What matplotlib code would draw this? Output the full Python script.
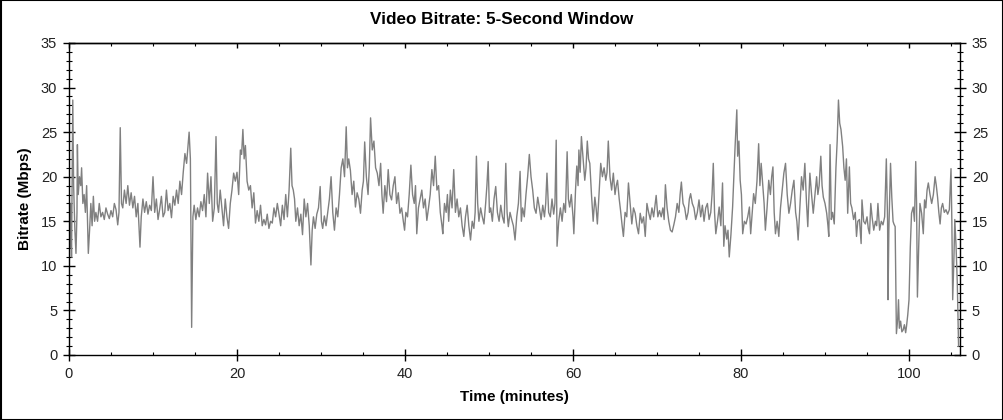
import matplotlib
matplotlib.use("Agg")
import matplotlib.pyplot as plt
from matplotlib.patches import Rectangle
from matplotlib.ticker import MultipleLocator

plt.rcParams["font.family"] = ["Liberation Sans", "DejaVu Sans"]

# time (minutes) and bitrate (Mbps), line by line
minutes = [
    0.0, 0.1, 0.2, 0.3, 0.45, 0.55, 0.7, 0.83, 0.95, 1.0,
    1.1, 1.25, 1.4, 1.5, 1.65, 1.8, 1.95, 2.1, 2.3, 2.45,
    2.6, 2.75, 2.9, 3.05, 3.2, 3.4, 3.6, 3.8, 4.0, 4.2,
    4.4, 4.6, 4.8, 5.0, 5.2, 5.4, 5.6, 5.8, 5.95, 6.1,
    6.25, 6.4, 6.6, 6.8, 7.0, 7.2, 7.4, 7.6, 7.8, 8.0,
    8.2, 8.45, 8.6, 8.8, 9.0, 9.2, 9.4, 9.6, 9.8, 10.0,
    10.2, 10.4, 10.6, 10.8, 11.0, 11.2, 11.4, 11.6, 11.8, 12.0,
    12.2, 12.4, 12.6, 12.8, 13.0, 13.2, 13.4, 13.6, 13.8, 14.0,
    14.3, 14.45, 14.6, 14.75, 14.9, 15.1, 15.3, 15.5, 15.7, 15.9,
    16.1, 16.3, 16.5, 16.7, 16.9, 17.1, 17.3, 17.5, 17.65, 17.8,
    18.0, 18.2, 18.4, 18.6, 18.8, 19.0, 19.2, 19.4, 19.6, 19.8,
    20.0, 20.2, 20.4, 20.55, 20.7, 20.85, 21.0, 21.2, 21.4, 21.6,
    21.8, 22.0, 22.2, 22.4, 22.6, 22.8, 23.0, 23.2, 23.4, 23.6,
    23.8, 24.0, 24.2, 24.4, 24.6, 24.8, 25.0, 25.2, 25.4, 25.6,
    25.8, 26.0, 26.2, 26.4, 26.55, 26.7, 26.85, 27.0, 27.2, 27.4,
    27.6, 27.8, 28.0, 28.2, 28.4, 28.6, 28.8, 28.95, 29.1, 29.3,
    29.5, 29.7, 29.9, 30.05, 30.2, 30.4, 30.6, 30.8, 31.0, 31.2,
    31.4, 31.6, 31.8, 32.0, 32.2, 32.4, 32.6, 32.8, 33.0, 33.15,
    33.3, 33.5, 33.7, 33.9, 34.1, 34.3, 34.5, 34.7, 34.9, 35.05,
    35.2, 35.4, 35.6, 35.75, 35.9, 36.1, 36.3, 36.5, 36.7, 36.9,
    37.1, 37.25, 37.4, 37.6, 37.8, 38.0, 38.2, 38.4, 38.6, 38.8,
    39.0, 39.2, 39.4, 39.6, 39.8, 39.95, 40.1, 40.3, 40.5, 40.7,
    40.9, 41.1, 41.25, 41.4, 41.6, 41.8, 42.0, 42.2, 42.4, 42.6,
    42.8, 43.0, 43.2, 43.4, 43.6, 43.8, 44.0, 44.2, 44.4, 44.5,
    44.7, 44.9, 45.05, 45.2, 45.4, 45.6, 45.8, 46.0, 46.2, 46.4,
    46.6, 46.8, 47.0, 47.2, 47.4, 47.6, 47.8, 48.0, 48.2, 48.35,
    48.5, 48.65, 48.8, 49.0, 49.2, 49.4, 49.6, 49.75, 49.9, 50.05,
    50.2, 50.4, 50.6, 50.8, 51.0, 51.2, 51.4, 51.6, 51.8, 52.0,
    52.15, 52.3, 52.5, 52.7, 52.9, 53.1, 53.3, 53.5, 53.7, 53.85,
    54.0, 54.2, 54.4, 54.6, 54.8, 55.0, 55.2, 55.4, 55.6, 55.8,
    56.0, 56.2, 56.4, 56.6, 56.75, 56.9, 57.1, 57.3, 57.5, 57.7,
    57.85, 58.0, 58.1, 58.3, 58.5, 58.7, 58.9, 59.1, 59.3, 59.45,
    59.6, 59.8, 60.0, 60.1, 60.3, 60.45, 60.6, 60.7, 60.85, 61.0,
    61.2, 61.4, 61.55, 61.7, 61.85, 62.0, 62.2, 62.4, 62.6, 62.75,
    62.9, 63.1, 63.3, 63.5, 63.7, 63.9, 64.05, 64.2, 64.4, 64.6,
    64.8, 65.0, 65.15, 65.3, 65.5, 65.65, 65.85, 66.0, 66.2, 66.4,
    66.6, 66.8, 67.0, 67.2, 67.4, 67.6, 67.8, 68.0, 68.2, 68.4,
    68.6, 68.8, 69.0, 69.2, 69.4, 69.6, 69.9, 70.1, 70.3, 70.5,
    70.7, 70.85, 71.0, 71.2, 71.4, 71.6, 71.8, 72.0, 72.2, 72.4,
    72.6, 72.75, 72.9, 73.1, 73.3, 73.5, 73.7, 73.85, 74.0, 74.2,
    74.4, 74.6, 74.8, 75.0, 75.2, 75.4, 75.6, 75.8, 76.0, 76.2,
    76.4, 76.55, 76.7, 76.85, 77.0, 77.2, 77.4, 77.6, 77.8, 77.95,
    78.1, 78.3, 78.45, 78.6, 78.8, 79.0, 79.15, 79.3, 79.5, 79.6,
    79.75, 79.9, 80.05, 80.2, 80.4, 80.6, 80.8, 81.0, 81.15, 81.3,
    81.5, 81.7, 81.9, 82.1, 82.25, 82.4, 82.6, 82.75, 82.9, 83.1,
    83.3, 83.5, 83.65, 83.8, 83.95, 84.1, 84.3, 84.5, 84.7, 84.9,
    85.1, 85.3, 85.5, 85.7, 85.9, 86.1, 86.3, 86.5, 86.65, 86.8,
    87.0, 87.2, 87.4, 87.6, 87.8, 87.95, 88.05, 88.2, 88.4, 88.6,
    88.8, 89.0, 89.15, 89.3, 89.5, 89.65, 89.8, 90.0, 90.2, 90.35,
    90.45, 90.6, 90.75, 90.9, 91.1, 91.3, 91.45, 91.6, 91.75, 91.9,
    92.1, 92.25, 92.4, 92.55, 92.7, 92.9, 93.05, 93.2, 93.4, 93.6,
    93.75, 93.9, 94.1, 94.3, 94.4, 94.6, 94.8, 95.0, 95.15, 95.3,
    95.45, 95.6, 95.8, 96.0, 96.15, 96.3, 96.5, 96.7, 96.9, 97.1,
    97.3, 97.45, 97.5, 97.6, 97.8, 97.95, 98.1, 98.2, 98.35, 98.45,
    98.5, 98.65, 98.75, 98.85, 99.0, 99.15, 99.3, 99.45, 99.6, 99.7,
    99.85, 100.0, 100.15, 100.3, 100.5, 100.65, 100.8, 100.9, 101.0, 101.15,
    101.3, 101.5, 101.7, 101.85, 102.0, 102.15, 102.3, 102.5, 102.7, 102.9,
    103.1, 103.25, 103.4, 103.55, 103.7, 103.85, 104.0, 104.2, 104.4, 104.6,
    104.8, 105.0, 105.1, 105.2, 105.35, 105.45, 105.6, 105.75, 105.9,
]

mbps = [
    16, 12, 17, 11, 28.6, 19, 14, 11.4, 16, 23.6,
    18, 20, 19, 21, 17, 18, 16, 19, 11.4, 14,
    17, 14.5, 17.8, 15, 16, 15, 17, 15.5, 16, 15.2,
    16.5, 15.8, 15.3, 16.2, 15.5, 17, 16.3, 14.6, 16, 25.5,
    17, 16.5, 18.5, 17, 19, 16.8, 18.2, 16.5, 17.8, 15.5,
    17, 12.1, 15.5, 17.5, 16, 17.2, 15.8, 16.8, 16.2, 20,
    16, 17.5, 15.2, 16.4, 17.8, 15.5, 16, 18.5, 16.2, 17,
    15.4, 17.8, 16.8, 18.5, 17, 19.5, 18, 20.5, 22.6, 21.5,
    25, 22, 3.1, 15.5, 16.8, 15.2, 16.5, 15.5, 17.2, 16.2,
    18, 15.5, 20.4, 17, 20, 15, 16.5, 24.5, 17, 16,
    18.5, 16.5, 14.5, 17.5, 15.5, 14.2, 17, 18.5, 20.4, 19.5,
    20.5, 18, 23, 22.5, 25.3, 22, 23.5, 19.5, 18.5, 19,
    16.5, 18.2, 14.8, 16.2, 15, 16.8, 14.5, 15.2, 14.6, 15.8,
    14.2, 15, 14.8, 16.5, 15.5, 17, 15.8, 14.5, 16.8, 15.2,
    18, 15.5, 18.5, 23.2, 19, 18.5, 17.5, 15, 16.5, 14.5,
    15.8, 13.5, 17.5, 15.5, 17, 14.5, 10.1, 14, 15.5, 14.2,
    15.8, 16.5, 18.9, 15, 14.2, 15.6, 14.5, 16, 17.5, 20,
    16, 14, 16.5, 15.5, 18, 21, 22, 20, 25.6, 21,
    22, 20.7, 18, 19.5, 16.6, 18.2, 17.5, 15.9, 18.5, 19.5,
    23.9, 20, 18, 21, 26.6, 23, 24, 21, 20.4, 19,
    21.5, 18, 15.9, 19, 17.2, 20.8, 18, 17.4, 19, 20,
    17, 18.2, 15.9, 16.5, 15, 14, 16, 15.5, 18, 21.3,
    18, 17, 19, 13.6, 16.5, 17.5, 18.5, 16.5, 17.5, 15.1,
    16.5, 18, 20.8, 19, 22.3, 18.5, 19, 16, 14.5, 13.6,
    17, 16, 18, 15, 18.5, 16.5, 20.8, 16, 17.5, 15.5,
    16.5, 14.5, 13.3, 15.5, 16.8, 14.5, 12.9, 15, 14.2, 16,
    22.3, 17, 15, 16.5, 15.5, 14.7, 17, 19, 21.7, 16,
    16.5, 15, 17.5, 18.9, 16, 15, 16.8, 15.5, 14.8, 21.5,
    16, 14.4, 16, 15.2, 14.5, 12.9, 15.5, 17, 20.6, 15,
    16.5, 15.5, 18, 20, 22.5, 20, 18.5, 16.5, 15.9, 17.7,
    16.5, 15.2, 16.8, 15.5, 17, 20.4, 16, 15.5, 17.5, 15.8,
    17, 24.1, 12.2, 15, 16.5, 15, 17, 16, 22.8, 17.5,
    16.6, 18, 15.5, 13.6, 18.5, 21.2, 19, 23, 20.5, 24.5,
    22, 19.6, 21, 24, 22, 21.5, 18, 15, 17.7, 16.5,
    14.7, 18, 21.5, 20, 21, 19.6, 20.5, 24, 20, 18.5,
    20.4, 18, 19, 19.6, 17.5, 16.3, 14.5, 13.3, 16, 15.5,
    19.3, 17, 14.7, 16.5, 15.9, 14.5, 13.6, 15.9, 14.8, 15.5,
    13.3, 17, 16, 15.2, 16.5, 15.5, 17.9, 15.5, 16.2, 15.5,
    16.5, 15.2, 19.1, 16.5, 15, 14, 13.8, 14.6, 15.5, 17,
    16, 18, 19.4, 17, 16.5, 15.2, 16, 17.5, 18.1, 17,
    16.5, 15.2, 16, 17.4, 15.5, 16.8, 15, 16.5, 17, 15.2,
    16, 18, 21.5, 16, 13.6, 15, 16.6, 14.5, 19.3, 12.2,
    14.5, 13, 14, 11, 13.5, 16.6, 20, 23.5, 27.5, 22.3,
    24, 19.6, 18, 13.6, 15, 14.7, 15.5, 16.6, 13.6, 15.5,
    18.1, 17, 19.5, 23.7, 19, 21.5, 19, 17, 14, 16.5,
    19.6, 18, 20, 21.1, 16, 13.6, 15, 13.3, 16.5, 18.5,
    20.4, 21.5, 18, 15.9, 17, 18.5, 19.6, 16, 15, 12.9,
    16.5, 20, 18.5, 21.5, 17, 14.4, 17, 20.4, 18, 15.9,
    18, 20, 18, 19, 22.3, 19, 17.7, 17, 15.9, 14.5,
    13.3, 23.6, 15.2, 16, 14.7, 21, 24, 28.6, 26, 25.3,
    23.4, 21, 19.6, 22, 15.9, 21.1, 17, 16.5, 15.2, 16,
    13.3, 15, 15.2, 12.5, 17.4, 15, 14.7, 15.5, 14.2, 13.6,
    17, 15.5, 14, 15, 14.5, 17, 14, 15, 14.6, 15.5,
    22, 15, 6.2, 14, 21.5, 17.7, 15, 14.7, 14.4, 6,
    2.4, 4, 6.2, 3, 3.8, 2.6, 2.8, 3.4, 2.5, 3.2,
    4.5, 6.2, 12, 15.9, 16.6, 15, 21.7, 17, 6.5, 12,
    17, 15.9, 13.6, 17.4, 16.5, 18.5, 19.3, 18, 17, 18,
    20, 19, 17.7, 16, 14.7, 16.5, 17, 16, 16.3, 15.8,
    16.3, 20.9, 15, 6.2, 11, 15.2, 12.2, 8, 1,
]

title = "Video Bitrate: 5-Second Window"
x_label = "Time (minutes)"
y_label = "Bitrate (Mbps)"

fig = plt.figure(figsize=(10.04, 4.2), dpi=100)
ax = fig.add_axes([69 / 1004, 65 / 420, 891 / 1004, 312 / 420])

ax.plot(minutes, mbps, color="#808080", linewidth=1.0)

ax.set_xlim(0, 106.07)
ax.set_ylim(0, 35)

# ticks
ax.xaxis.set_major_locator(MultipleLocator(20))
ax.xaxis.set_minor_locator(MultipleLocator(5))
ax.yaxis.set_major_locator(MultipleLocator(5))
ax.yaxis.set_minor_locator(MultipleLocator(1))

ax.tick_params(axis="x", which="major", direction="inout", length=8, width=1,
               labelsize=10.5, labelcolor="#222222", pad=5)
ax.tick_params(axis="x", which="minor", direction="in", length=2.5, width=0.8)
ax.tick_params(axis="y", which="major", direction="inout", length=8, width=1,
               left=True, right=True, labelleft=True, labelright=True,
               labelsize=10.5, labelcolor="#222222", pad=4.5)
ax.tick_params(axis="y", which="minor", direction="inout", length=4.5, width=0.8,
               left=True, right=True)

top = ax.secondary_xaxis("top")
top.xaxis.set_major_locator(MultipleLocator(20))
top.xaxis.set_minor_locator(MultipleLocator(5))
top.tick_params(which="major", direction="in", length=3.5, width=1, labeltop=False)
top.tick_params(which="minor", direction="in", length=2, width=0.8)

for s in ax.spines.values():
    s.set_linewidth(1)
top.spines["top"].set_linewidth(1)

ax.set_xlabel(x_label, fontsize=11, fontweight="bold", labelpad=6)
ax.set_ylabel(y_label, fontsize=11, fontweight="bold", labelpad=6)
fig.text(0.5, 1 - 20 / 420, title, fontsize=12.3, fontweight="bold",
         ha="center", va="center")

# outer frame
fig.patches.append(Rectangle((0.0005, 0.001), 0.999, 0.998, transform=fig.transFigure,
                             fill=False, edgecolor="black", linewidth=1.5))

fig.savefig("out.png", dpi=100)
